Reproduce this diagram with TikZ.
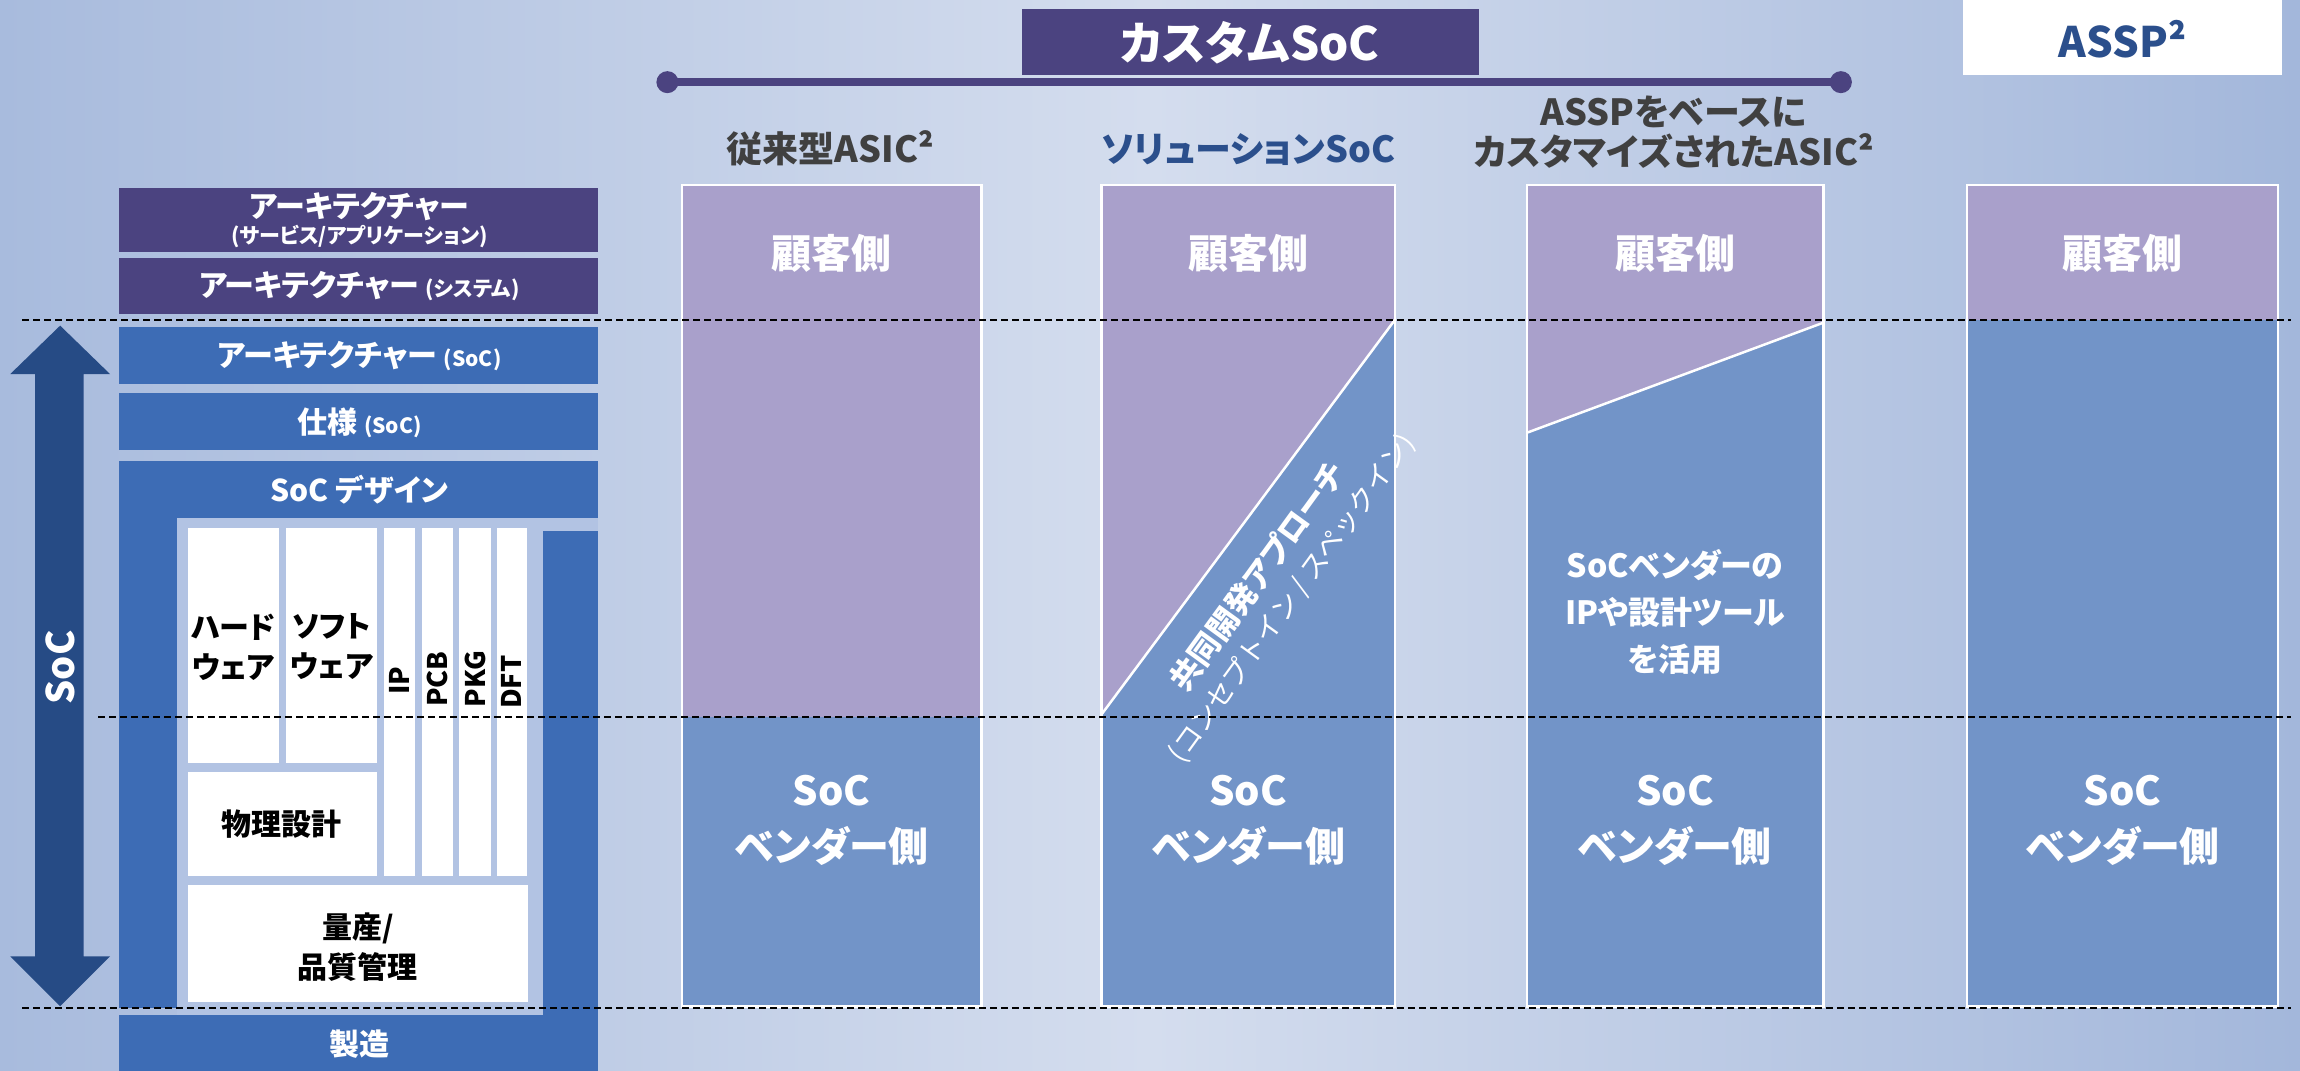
\documentclass[tikz,border=0pt]{standalone}
\usepackage{fontspec}
\setmainfont{Noto Sans CJK JP}[RawFeature=+palt]
\newfontfamily\jpfull{Noto Sans CJK JP}
\newcommand{\fs}[2]{\fontsize{#1}{#2}\selectfont}
\definecolor{dpurple}{HTML}{4B4380}
\definecolor{mblue}{HTML}{3D6CB5}
\definecolor{darrow}{HTML}{264B85}
\definecolor{cpurple}{HTML}{A9A0CB}
\definecolor{cblue}{HTML}{7294C8}
\definecolor{linner}{HTML}{B2C3E3}
\definecolor{hgray}{HTML}{404040}
\definecolor{hblue}{HTML}{2B4F8C}
\definecolor{bgl}{HTML}{A8BBDD}
\definecolor{bgm}{HTML}{D4DDEE}
\definecolor{bgr}{HTML}{A3B7DB}
\begin{document}
\begin{tikzpicture}[x=1.4668pt,y=-1.4668pt,
  lbl/.style={text=white,font=\bfseries\fs{30}{34},inner sep=0pt},
  blk/.style={text=black,font=\bfseries\fs{30}{40},inner sep=0pt,align=center},
  vlbl/.style={text=black,font=\bfseries\fs{27}{30},inner sep=0pt,rotate=90},
  head/.style={font=\bfseries\fs{36}{40},inner sep=0pt,align=center},
  cust/.style={text=white,font=\bfseries\fs{40}{56},inner sep=0pt,align=center},
  vend/.style={text=white,font=\bfseries\fs{40}{56},inner sep=0pt,align=center},
  mid/.style={text=white,font=\bfseries\fs{32}{47},inner sep=0pt,align=center},
  diagtxt/.style={text=white,inner sep=0pt,rotate=54},
  colborder/.style={draw=white,line width=2.5pt},
  dline/.style={black,line width=2.2pt,dash pattern=on 7pt off 4pt}]
\useasboundingbox (0,0) rectangle (1568,730);
% background
\shade[left color=bgl,right color=bgr,middle color=bgm] (0,0) rectangle (1568,730);

% title and bar
\fill[dpurple] (697,6) rectangle (1008,51);
\node[text=white,font=\bfseries\fs{46}{50},inner sep=0pt] (title) at (852,29) {カスタムSoC};
\coordinate (bl) at (455,56);
\coordinate (br) at (1255,56);
\draw[dpurple,line width=8pt] (bl) -- (br);
\fill[dpurple] (bl) circle[radius=7.5];
\fill[dpurple] (br) circle[radius=7.5];

% ASSP box
\fill[white] (1338,0) rectangle (1556,51);
\node[text=hblue,font=\bfseries\fs{42}{46},inner sep=0pt] (assp) at (1447,27) {ASSP²};

% headers
\node[head,text=hgray] (h1) at (566,101) {従来型ASIC²};
\node[head,text=hblue] (h2) at (851,102) {ソリューションSoC};
\node[head,text=hgray] (h3) at (1141,90) {ASSPをベースに\\カスタマイズされたASIC²};

% column 1
\fill[cpurple] (465,126) rectangle (669,489);
\fill[cblue] (465,489) rectangle (669,686);
\draw[colborder] (465,126) rectangle (669,686);
% column 2
\fill[cpurple] (751,126) -- (951,126) -- (951,218) -- (751,487) -- cycle;
\fill[cblue] (751,487) -- (951,218) -- (951,686) -- (751,686) -- cycle;
\draw[white,line width=2.5pt] (751,487) -- (951,218);
\draw[colborder] (751,126) rectangle (951,686);
% column 3
\fill[cpurple] (1041,126) -- (1243,126) -- (1243,220) -- (1041,295) -- cycle;
\fill[cblue] (1041,295) -- (1243,220) -- (1243,686) -- (1041,686) -- cycle;
\draw[white,line width=2.5pt] (1041,295) -- (1243,220);
\draw[colborder] (1041,126) rectangle (1243,686);
% column 4
\fill[cpurple] (1341,126) rectangle (1553,218);
\fill[cblue] (1341,218) rectangle (1553,686);
\draw[colborder] (1341,126) rectangle (1553,686);

% column texts
\node[cust] (c1) at (567,173) {顧客側};
\node[cust] (c2) at (851,173) {顧客側};
\node[cust] (c3) at (1142,173) {顧客側};
\node[cust] (c4) at (1447,173) {顧客側};
\node[vend] (v1) at (567,559) {SoC\\ベンダー側};
\node[vend] (v2) at (851,559) {SoC\\ベンダー側};
\node[vend] (v3) at (1142,559) {SoC\\ベンダー側};
\node[vend] (v4) at (1447,559) {SoC\\ベンダー側};
\node[mid] (m3) at (1142,417) {SoCベンダーの\\IPや設計ツール\\を活用};
\node[diagtxt,font=\bfseries\fs{31}{34}] (diag1) at (857,393) {共同開発アプローチ};
\node[diagtxt,font=\jpfull\fs{27.5}{30}] (diag2) at (881,408) {(コンセプトイン / スペックイン)};

% left stack
\fill[dpurple] (81,128) rectangle (408,172);
\node[lbl] (a1) at (245,141) {アーキテクチャー};
\node[lbl,font=\bfseries\fs{21}{24}] (a2) at (245,161) {(サービス/アプリケーション)};
\fill[dpurple] (81,176) rectangle (408,214);
\node[lbl] (b1) at (245,195) {アーキテクチャー {\fs{21}{24}(システム)}};
\fill[mblue] (81,223) rectangle (408,262);
\node[lbl] (s1) at (245,243) {アーキテクチャー {\fs{21}{24}(SoC)}};
\fill[mblue] (81,268) rectangle (408,307);
\node[lbl] (s2) at (245,288) {仕様 {\fs{21}{24}(SoC)}};
\fill[mblue] (81,314) rectangle (408,353);
\node[lbl] (s3) at (245,334) {SoC デザイン};
\fill[mblue] (81,353) rectangle (121,687);
\fill[linner] (121,353) rectangle (408,692);
\fill[mblue] (370,362) rectangle (408,692);
\fill[mblue] (81,692) rectangle (408,730);
\node[lbl] (mf) at (245,712) {製造};

% inner white boxes
\fill[white] (128,360) rectangle (190,520);
\node[blk] (hw) at (159,441) {ハード\\ウェア};
\fill[white] (195,360) rectangle (257,520);
\node[blk] (sw) at (226,441) {ソフト\\ウェア};
\fill[white] (262,360) rectangle (283,597);
\node[vlbl] (ip) at (272.5,464) {IP};
\fill[white] (288,360) rectangle (309,597);
\node[vlbl] (pcb) at (298.5,463) {PCB};
\fill[white] (313,360) rectangle (334.5,597);
\node[vlbl] (pkg) at (324,463) {PKG};
\fill[white] (339,360) rectangle (359.5,597);
\node[vlbl] (dft) at (349,465) {DFT};
\fill[white] (128,526) rectangle (257,597);
\node[blk] (pd) at (192,562) {物理設計};
\fill[white] (128,603) rectangle (360,683);
\node[blk] (qm) at (244,646) {量産/\\品質管理};

% SoC double arrow
\fill[darrow] (41,222) -- (75,255) -- (57,255) -- (57,652) -- (75,652) -- (41,686)
  -- (7,652) -- (24,652) -- (24,255) -- (7,255) -- cycle;
\node[text=white,font=\bfseries\fs{38}{40},inner sep=0pt,rotate=90] (socv) at (41,455) {SoC};

% dashed lines
\coordinate (d1a) at (15,218); \coordinate (d1b) at (1562,218);
\coordinate (d2a) at (67,489); \coordinate (d2b) at (1562,489);
\coordinate (d3a) at (15,687); \coordinate (d3b) at (1562,687);
\draw[dline] (d1a) -- (d1b);
\draw[dline] (d2a) -- (d2b);
\draw[dline] (d3a) -- (d3b);
\end{tikzpicture}
\end{document}
